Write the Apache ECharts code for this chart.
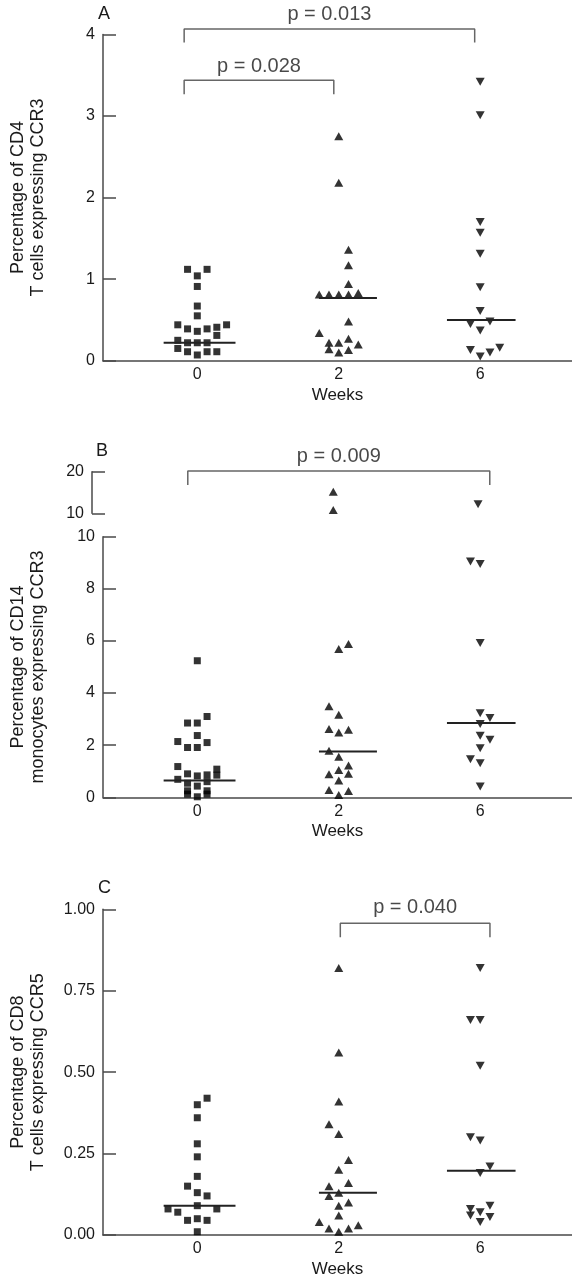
<!DOCTYPE html>
<html><head><meta charset="utf-8">
<script src="https://cdn.jsdelivr.net/npm/echarts@6/dist/echarts.min.js"></script>
<style>html,body{margin:0;padding:0;background:#fff}#c{width:572px;height:1280px}</style>
</head><body><div id="c"></div>
<script>
// ---------- data ----------
const weeks = ['0', '2', '6'];

// Panel A: % of CD4 T cells expressing CCR3
const aWeek0 = [1.12, 1.12, 1.04, 0.91, 0.67, 0.55, 0.44, 0.39, 0.36, 0.39, 0.41, 0.44, 0.31, 0.25, 0.22, 0.22, 0.22, 0.15, 0.11, 0.07, 0.11, 0.11];
const aJit0  = [-1, 1, 0, 0, 0, 0, -2, -1, 0, 1, 2, 3, 2, -2, -1, 0, 1, -2, -1, 0, 1, 2];
const aWeek2 = [2.75, 2.18, 1.36, 1.17, 0.94, 0.81, 0.81, 0.81, 0.81, 0.83, 0.48, 0.34, 0.22, 0.22, 0.27, 0.20, 0.14, 0.10, 0.13];
const aJit2  = [0, 0, 1, 1, 1, -2, -1, 0, 1, 2, 1, -2, -1, 0, 1, 2, -1, 0, 1];
const aWeek6 = [3.42, 3.01, 1.70, 1.57, 1.31, 0.90, 0.61, 0.45, 0.48, 0.37, 0.13, 0.10, 0.16, 0.05];
const aJit6  = [0, 0, 0, 0, 0, 0, 0, -1, 1, 0, -1, 1, 2, 0];
const aMedians = [0.22, 0.77, 0.50];
const aTicks = [0, 1, 2, 3, 4];

// Panel B: % of CD14 monocytes expressing CCR3 (broken axis at 10)
const bWeek0 = [5.24, 3.10, 2.85, 2.85, 2.37, 2.14, 2.10, 1.91, 1.91, 1.18, 1.08, 0.85, 0.90, 0.82, 0.86, 0.69, 0.60, 0.54, 0.43, 0.25, 0.12, 0.25, 0.12, 0.02];
const bJit0  = [0, 1, -1, 0, 0, -2, 1, -1, 0, -2, 2, 2, -1, 0, 1, -2, 1, -1, 0, -1, -1, 1, 1, 0];
const bWeek2 = [15.2, 10.8, 5.69, 5.88, 3.49, 3.17, 2.62, 2.49, 2.59, 1.79, 1.56, 1.22, 1.05, 0.88, 0.90, 0.64, 0.28, 0.24, 0.09];
const bJit2  = [0, 0, 0, 1, -1, 0, -1, 0, 1, -1, 0, 1, 0, -1, 1, 0, -1, 1, 0];
const bWeek6 = [12.2, 9.05, 8.95, 5.92, 3.23, 3.04, 2.81, 2.36, 2.21, 1.88, 1.46, 1.31, 0.41];
const bJit6  = [0, -1, 0, 0, 0, 1, 0, 0, 1, 0, -1, 0, 0];
const bMedians = [0.64, 1.76, 2.85];
const bBreak = 10;

// Panel C: % of CD8 T cells expressing CCR5
const cWeek0 = [0.42, 0.40, 0.36, 0.28, 0.24, 0.18, 0.15, 0.13, 0.12, 0.09, 0.08, 0.08, 0.07, 0.045, 0.05, 0.045, 0.01];
const cJit0  = [1, 0, 0, 0, 0, 0, -1, 0, 1, 0, -3, 2, -2, -1, 0, 1, 0];
const cWeek2 = [0.82, 0.56, 0.41, 0.34, 0.31, 0.23, 0.20, 0.16, 0.15, 0.13, 0.12, 0.10, 0.09, 0.06, 0.04, 0.03, 0.02, 0.02, 0.01];
const cJit2  = [0, 0, 0, -1, 0, 1, 0, 1, -1, 0, -1, 1, 0, 0, -2, 2, -1, 1, 0];
const cWeek6 = [0.82, 0.66, 0.66, 0.52, 0.30, 0.29, 0.21, 0.19, 0.09, 0.08, 0.07, 0.06, 0.055, 0.04];
const cJit6  = [0, -1, 0, 0, -1, 0, 1, 0, 1, -1, 0, -1, 1, 0];
const cMedians = [0.09, 0.13, 0.197];

// significance annotations
const pLabels = ['p = 0.013', 'p = 0.028', 'p = 0.009', 'p = 0.040'];

// ---------- layout / style ----------
const FONT = 'Liberation Sans';
const AX = '#4a4a4a', TXT = '#1a1a1a', BR = '#666';
const XMIN = -0.6667, XMAX = 2.649, SLOT = 0.069;
const medExt = [[-0.238, 0.27], [-0.14, 0.27], [-0.235, 0.25]];
const brackets = [
  {grid: 0, x0: -0.093, x1: 1.961, top: 4.066, drop: 3.90, ly: 4.24, text: pLabels[0]},
  {grid: 0, x0: -0.093, x1: 0.965, top: 3.438, drop: 3.266, ly: 3.61, text: pLabels[1]},
  {grid: 1, x0: -0.005, x1: 2.081, top: 20.17, drop: 16.8, ly: 23.7, text: pLabels[2]},
  {grid: 3, x0: 1.011, x1: 2.069, top: 0.957, drop: 0.914, ly: 1.006, text: pLabels[3]}
];

const grids = [
  {left: 92, right: 0, top: 34.4, height: 326.3},
  {left: 92, right: 0, top: 471.7, height: 41.6},
  {left: 92, right: 0, top: 536.7, height: 260.6},
  {left: 92, right: 0, top: 909.3, height: 325.7}
];

function xAxis(gi, show) {
  return {
    type: 'value', gridIndex: gi, min: XMIN, max: XMAX, show: show,
    axisLine: {show: true, onZero: false, lineStyle: {color: AX, width: 1.5}},
    axisTick: {show: false}, splitLine: {show: false},
    axisLabel: {customValues: [0, 1, 2], formatter: v => weeks[Math.round(v)], fontSize: 16, color: TXT, margin: 6, fontFamily: FONT},
    name: 'Weeks', nameLocation: 'middle', nameGap: 26,
    nameTextStyle: {fontSize: 17, color: TXT, fontFamily: FONT}
  };
}
function yAxis(gi, min, max, interval, name, fmt) {
  return {
    type: 'value', gridIndex: gi, min: min, max: max, interval: interval,
    axisLine: {show: true, onZero: false, lineStyle: {color: AX, width: 1.5}},
    axisTick: {show: true, inside: true, length: 13, lineStyle: {color: AX, width: 1.5}},
    splitLine: {show: false},
    axisLabel: {fontSize: 16, color: TXT, margin: 8, fontFamily: FONT, formatter: fmt || (v => String(v))},
    name: name || '', nameLocation: 'middle', nameRotate: 90, nameGap: 55,
    nameTextStyle: {fontSize: 18, lineHeight: 20, color: TXT, fontFamily: FONT, align: 'center'}
  };
}

const series = [];
const SYM = [
  {symbol: 'rect', size: 7, rotate: 0},
  {symbol: 'triangle', size: [9, 8], rotate: 0},
  {symbol: 'triangle', size: [9, 8], rotate: 180}
];
function addPoints(gi, g, vals, jit, pick) {
  const data = [];
  vals.forEach((v, i) => { if (!pick || pick(v)) data.push([g + jit[i] * SLOT, v]); });
  if (!data.length) return;
  const s = SYM[g];
  series.push({
    type: 'scatter', xAxisIndex: gi, yAxisIndex: gi, data: data,
    symbol: s.symbol, symbolSize: s.size, symbolRotate: s.rotate,
    itemStyle: {color: '#000'}, silent: true, clip: false
  });
}
function addMedians(gi, meds) {
  meds.forEach((m, g) => {
    series.push({
      type: 'line', xAxisIndex: gi, yAxisIndex: gi, symbol: 'none', silent: true,
      data: [[g + medExt[g][0], m], [g + medExt[g][1], m]],
      lineStyle: {color: '#222', width: 2}
    });
  });
}

addPoints(0, 0, aWeek0, aJit0); addPoints(0, 1, aWeek2, aJit2); addPoints(0, 2, aWeek6, aJit6);
addMedians(0, aMedians);

[[0, bWeek0, bJit0], [1, bWeek2, bJit2], [2, bWeek6, bJit6]].forEach(([g, vals, jit]) => {
  addPoints(1, g, vals, jit, v => v > bBreak);
  addPoints(2, g, vals, jit, v => v <= bBreak);
});
addMedians(2, bMedians);

addPoints(3, 0, cWeek0, cJit0); addPoints(3, 1, cWeek2, cJit2); addPoints(3, 2, cWeek6, cJit6);
addMedians(3, cMedians);

brackets.forEach(b => {
  series.push({
    type: 'line', xAxisIndex: b.grid, yAxisIndex: b.grid, symbol: 'none', silent: true, clip: false,
    data: [[b.x0, b.drop], [b.x0, b.top], [b.x1, b.top], [b.x1, b.drop]],
    lineStyle: {color: BR, width: 1.5}
  });
  series.push({
    type: 'scatter', xAxisIndex: b.grid, yAxisIndex: b.grid, silent: true, clip: false,
    symbolSize: 1, itemStyle: {color: 'rgba(0,0,0,0)'},
    data: [[(b.x0 + b.x1) / 2, b.ly]],
    label: {show: true, position: 'inside', formatter: () => b.text, fontSize: 20, color: TXT, fontFamily: FONT}
  });
});

const option = {
  backgroundColor: '#fff',
  animation: false,
  title: [
    {text: 'A', left: 93, top: 0, textStyle: {fontSize: 18, fontWeight: 'normal', color: TXT, fontFamily: FONT}},
    {text: 'B', left: 91, top: 437, textStyle: {fontSize: 18, fontWeight: 'normal', color: TXT, fontFamily: FONT}},
    {text: 'C', left: 93, top: 874, textStyle: {fontSize: 18, fontWeight: 'normal', color: TXT, fontFamily: FONT}}
  ],
  grid: grids,
  xAxis: [xAxis(0, true), xAxis(1, false), xAxis(2, true), xAxis(3, true)],
  yAxis: [
    yAxis(0, aTicks[0], aTicks[aTicks.length - 1], 1, 'Percentage of CD4\nT cells expressing CCR3'),
    yAxis(1, 10, 20, 10, ''),
    yAxis(2, 0, 10, 2, 'Percentage of CD14\nmonocytes expressing CCR3'),
    yAxis(3, 0, 1, 0.25, 'Percentage of CD8\nT cells expressing CCR5', v => v.toFixed(2))
  ],
  series: series
};
const chart = echarts.init(document.getElementById('c'), null, {renderer: 'canvas'});
chart.setOption(option);
</script></body></html>
